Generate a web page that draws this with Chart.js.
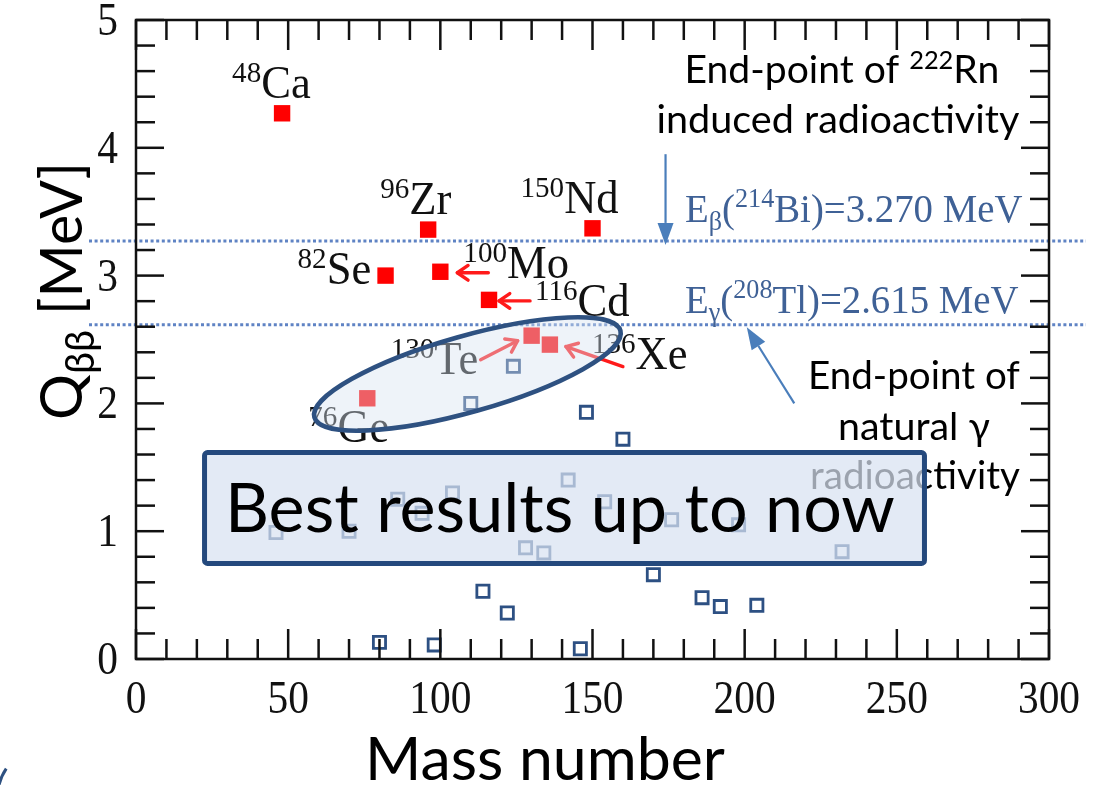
<!DOCTYPE html>
<html>
<head>
<meta charset="utf-8">
<script src="https://cdn.jsdelivr.net/npm/chart.js@4.4.1/dist/chart.umd.min.js"></script>
<style>
  html, body { margin: 0; padding: 0; background: #ffffff; }
  canvas { display: block; }
</style>
</head>
<body>
<canvas id="qbb" width="1101" height="785"></canvas>
<script>
// ---- values ----
const xTickLabels = [0, 50, 100, 150, 200, 250, 300];
const yTickLabels = [0, 1, 2, 3, 4, 5];

// double-beta candidates with Q above ~2 MeV (element, mass number, Q in MeV)
const candidateNames = ['Ca', 'Ge', 'Se', 'Zr', 'Mo', 'Cd', 'Te', 'Xe', 'Nd'];
const candidateMass  = [48, 76, 82, 96, 100, 116, 130, 136, 150];
const candidateQ     = [4.27, 2.04, 3.00, 3.36, 3.03, 2.81, 2.53, 2.46, 3.37];

// remaining double-beta emitters
const otherMass = [46, 70, 80, 86, 94, 98, 104, 110, 114, 122, 124, 128, 134,
                   142, 146, 148, 154, 160, 170, 176, 186, 192, 198, 204, 232];
const otherQ    = [0.99, 1.00, 0.13, 1.25, 1.14, 0.11, 1.30, 2.00, 0.53, 0.36, 2.29, 0.87, 0.83,
                   1.40, 0.08, 1.93, 1.23, 1.72, 0.66, 1.09, 0.48, 0.41, 1.05, 0.42, 0.84];

// background end-points (MeV)
const biEndpoint = 3.270;
const tlEndpoint = 2.615;

// ---- layout / styling ----
const SERIF = '"Liberation Serif", "Times New Roman", serif';
const SANS = 'Lato, "Open Sans", sans-serif';
const SERIF_SQUEEZE = 0.97;
const TICK_SQUEEZE = 0.9;

// label placement relative to each marker (pixels): left edge and baseline
const labelOffsets = {
  Ca: [-50, -15], Ge: [-59, 44], Se: [-88, 8], Zr: [-48, -16], Mo: [23, 6],
  Cd: [46, 16], Te: [-141, 38], Xe: [42, 24], Nd: [-72, -15]
};
// red pointer arrows relative to markers: [tailDx, tailDy, tipDx, tipDy]
const arrowOffsets = {
  Mo: [48, 1, 17, 1], Cd: [41, 1, 10, 1], Te: [-51, 24, -14, 5], Xe: [73, 22, 16, 2]
};

const points = (xs, ys) => xs.map((x, i) => ({ x: x, y: ys[i] }));

function line(ctx, x1, y1, x2, y2) {
  ctx.beginPath(); ctx.moveTo(x1, y1); ctx.lineTo(x2, y2); ctx.stroke();
}

// draw a run of text pieces ({t, size, dy}) starting at x, baseline y
function textRun(ctx, family, parts, x, y, sx, color, measureOnly) {
  ctx.save();
  let w = 0;
  parts.forEach(p => { ctx.font = p.size + 'px ' + family; w += ctx.measureText(p.t).width; });
  if (!measureOnly) {
    ctx.translate(x, y); ctx.scale(sx, 1);
    ctx.fillStyle = color; ctx.textBaseline = 'alphabetic'; ctx.textAlign = 'left';
    let cx = 0;
    parts.forEach(p => {
      ctx.font = p.size + 'px ' + family;
      ctx.fillText(p.t, cx, p.dy || 0);
      cx += ctx.measureText(p.t).width;
    });
  }
  ctx.restore();
  return w * sx;
}

// sans text scaled so its width equals the given width, centred on cx
function sansFit(ctx, parts, cx, y, width, color) {
  const w = textRun(ctx, SANS, parts, 0, 0, 1, color, true);
  const k = width / w;
  const scaled = parts.map(p => ({ t: p.t, size: p.size * k, dy: (p.dy || 0) * k }));
  textRun(ctx, SANS, scaled, cx - width / 2, y, 1, color, false);
}

function arrowOpen(ctx, x1, y1, x2, y2, head, color, lw) {
  const a = Math.atan2(y2 - y1, x2 - x1);
  ctx.save();
  ctx.strokeStyle = color; ctx.lineWidth = lw; ctx.lineCap = 'round'; ctx.lineJoin = 'round';
  line(ctx, x1, y1, x2, y2);
  ctx.beginPath();
  ctx.moveTo(x2 - head * Math.cos(a - 0.6), y2 - head * Math.sin(a - 0.6));
  ctx.lineTo(x2, y2);
  ctx.lineTo(x2 - head * Math.cos(a + 0.6), y2 - head * Math.sin(a + 0.6));
  ctx.stroke();
  ctx.restore();
}

function arrowFilled(ctx, x1, y1, x2, y2, len, half, color, lw) {
  const a = Math.atan2(y2 - y1, x2 - x1);
  const bx = x2 - len * Math.cos(a), by = y2 - len * Math.sin(a);
  ctx.save();
  ctx.strokeStyle = color; ctx.fillStyle = color; ctx.lineWidth = lw;
  line(ctx, x1, y1, bx, by);
  ctx.beginPath();
  ctx.moveTo(x2, y2);
  ctx.lineTo(bx + half * Math.sin(a), by - half * Math.cos(a));
  ctx.lineTo(bx - half * Math.sin(a), by + half * Math.cos(a));
  ctx.closePath(); ctx.fill();
  ctx.restore();
}

const backgroundLinesPlugin = {
  id: 'backgroundLines',
  beforeDatasetsDraw(chart) {
    const ctx = chart.ctx, ys = chart.scales.y;
    ctx.save();
    ctx.strokeStyle = '#5f83c4'; ctx.lineWidth = 3; ctx.setLineDash([3, 2.6]);
    [biEndpoint, tlEndpoint].forEach(v => {
      const Y = ys.getPixelForValue(v);
      line(ctx, 89, Y, 1086, Y);
    });
    ctx.restore();
  }
};

const decorPlugin = {
  id: 'decor',
  afterDatasetsDraw(chart) {
    const ctx = chart.ctx;
    const xs = chart.scales.x, ys = chart.scales.y;
    const X = v => xs.getPixelForValue(v), Y = v => ys.getPixelForValue(v);
    const { left, right, top, bottom } = chart.chartArea;

    // frame and inward ticks
    ctx.save();
    ctx.strokeStyle = '#111'; ctx.lineWidth = 2.5; ctx.lineCap = 'butt';
    ctx.strokeRect(left, top, right - left, bottom - top);
    for (let v = 0; v <= 300; v += 10) {
      const L = v % 50 === 0 ? 30 : 20, px = X(v);
      line(ctx, px, bottom, px, bottom - L);
      line(ctx, px, top, px, top + L);
    }
    for (let k = 0; k <= 25; k++) {
      const L = k % 5 === 0 ? 28 : 19, py = Y(k * 0.2);
      line(ctx, left, py, left + L, py);
      line(ctx, right, py, right - L, py);
    }
    ctx.restore();

    // tick labels
    yTickLabels.forEach(v => {
      const parts = [{ t: String(v), size: 46 }];
      const w = textRun(ctx, SERIF, parts, 0, 0, TICK_SQUEEZE, '#111', true);
      textRun(ctx, SERIF, parts, 118 - w, Y(v) + 15, TICK_SQUEEZE, '#111');
    });
    xTickLabels.forEach(v => {
      const parts = [{ t: String(v), size: 46 }];
      const w = textRun(ctx, SERIF, parts, 0, 0, TICK_SQUEEZE, '#111', true);
      textRun(ctx, SERIF, parts, X(v) - w / 2, 713, TICK_SQUEEZE, '#111');
    });

    // isotope labels and red pointers
    candidateNames.forEach((name, i) => {
      const px = X(candidateMass[i]), py = Y(candidateQ[i]);
      const off = labelOffsets[name];
      textRun(ctx, SERIF, [
        { t: String(candidateMass[i]), size: 30, dy: -16 },
        { t: name, size: 46 }
      ], px + off[0], py + off[1], SERIF_SQUEEZE, '#111');
      const ar = arrowOffsets[name];
      if (ar) arrowOpen(ctx, px + ar[0], py + ar[1], px + ar[2], py + ar[3], 13, '#ff1a1a', 3.4);
    });

    // end-point labels
    const blue = '#3f6196';
    textRun(ctx, SERIF, [
      { t: 'E', size: 40 }, { t: 'β', size: 27, dy: 8 }, { t: '(', size: 40 },
      { t: '214', size: 27, dy: -15 }, { t: 'Bi)=3.270 MeV', size: 40 }
    ], 685, Y(biEndpoint) - 19, SERIF_SQUEEZE, blue);
    textRun(ctx, SERIF, [
      { t: 'E', size: 40 }, { t: 'γ', size: 27, dy: 8 }, { t: '(', size: 40 },
      { t: '208', size: 27, dy: -15 }, { t: 'Tl)=2.615 MeV', size: 40 }
    ], 685, Y(tlEndpoint) - 12, SERIF_SQUEEZE, blue);

    // explanatory notes
    sansFit(ctx, [{ t: 'End-point of ', size: 40 }, { t: '222', size: 26, dy: -14 }, { t: 'Rn', size: 40 }],
      842, 83, 315, '#000');
    sansFit(ctx, [{ t: 'induced radioactivity', size: 40 }], 838, 133, 363, '#000');
    sansFit(ctx, [{ t: 'End-point of', size: 40 }], 914, 389, 212, '#000');
    sansFit(ctx, [{ t: 'natural γ', size: 40 }], 914, 440, 152, '#000');
    sansFit(ctx, [{ t: 'radioactivity', size: 40 }], 915, 489, 210, '#000');

    // blue pointers to the two end-point lines
    const arrowBlue = '#4a7ebb';
    arrowFilled(ctx, X(174), Y(3.95), X(174), Y(3.24), 22, 8, arrowBlue, 2.2);
    arrowFilled(ctx, X(216.3), Y(2.0), X(200.7), Y(2.595), 22, 8, arrowBlue, 2.2);

    // highlight around the most sensitive experiments
    const e1 = { x: X(57.9), y: Y(1.886) }, e2 = { x: X(159.9), y: Y(2.574) };
    const ecx = (e1.x + e2.x) / 2, ecy = (e1.y + e2.y) / 2;
    const ang = Math.atan2(e2.y - e1.y, e2.x - e1.x);
    const ea = Math.hypot(e2.x - e1.x, e2.y - e1.y) / 2 - 2.3;
    ctx.save();
    ctx.beginPath();
    ctx.ellipse(ecx, ecy, ea, 38, ang, 0, Math.PI * 2);
    ctx.fillStyle = 'rgba(214, 226, 241, 0.42)';
    ctx.fill();
    ctx.strokeStyle = '#2e5181'; ctx.lineWidth = 4.6;
    ctx.stroke();
    ctx.restore();

    // "best results" banner
    const bx1 = X(21.7), bx2 = X(259.9), by1 = Y(1.635), by2 = Y(0.728);
    ctx.save();
    ctx.beginPath();
    ctx.roundRect(bx1 + 2.5, by1 + 2.5, bx2 - bx1 - 5, by2 - by1 - 5, 3);
    ctx.fillStyle = 'rgba(216, 226, 241, 0.72)';
    ctx.fill();
    ctx.strokeStyle = '#24497d'; ctx.lineWidth = 5;
    ctx.stroke();
    ctx.restore();
    sansFit(ctx, [{ t: 'Best results up to now', size: 68 }], 560, 532, 670, '#000');

    // axis titles
    sansFit(ctx, [{ t: 'Mass number', size: 60 }], 545, 780, 360, '#000');
    ctx.save();
    ctx.translate(82, 291);
    ctx.rotate(-Math.PI / 2);
    sansFit(ctx, [{ t: 'Q', size: 58 }, { t: 'ββ', size: 40, dy: 12 }, { t: ' [MeV]', size: 58 }],
      0, 0, 258, '#000');
    ctx.restore();

    // slide decoration at the lower left corner
    ctx.save();
    ctx.strokeStyle = '#2e5181'; ctx.lineWidth = 3;
    ctx.beginPath();
    ctx.arc(48, 797, 50.5, Math.PI * 1.05, Math.PI * 1.19);
    ctx.stroke();
    ctx.restore();
  }
};

new Chart(document.getElementById('qbb'), {
  type: 'scatter',
  data: {
    datasets: [
      {
        label: 'other emitters',
        data: points(otherMass, otherQ),
        pointStyle: 'rect',
        pointRadius: 8.6,
        borderWidth: 2.8,
        borderColor: '#2d5083',
        backgroundColor: 'rgba(0,0,0,0)'
      },
      {
        label: 'candidates',
        data: points(candidateMass, candidateQ),
        pointStyle: 'rect',
        pointRadius: 11.6,
        borderWidth: 0,
        backgroundColor: '#ff0000'
      }
    ]
  },
  options: {
    responsive: false,
    animation: false,
    events: [],
    layout: { padding: { left: 136, right: 52, top: 20, bottom: 126 } },
    scales: {
      x: { type: 'linear', min: 0, max: 300, display: false },
      y: { type: 'linear', min: 0, max: 5, display: false }
    },
    plugins: { legend: { display: false }, tooltip: { enabled: false } }
  },
  plugins: [backgroundLinesPlugin, decorPlugin]
});
</script>
</body>
</html>
